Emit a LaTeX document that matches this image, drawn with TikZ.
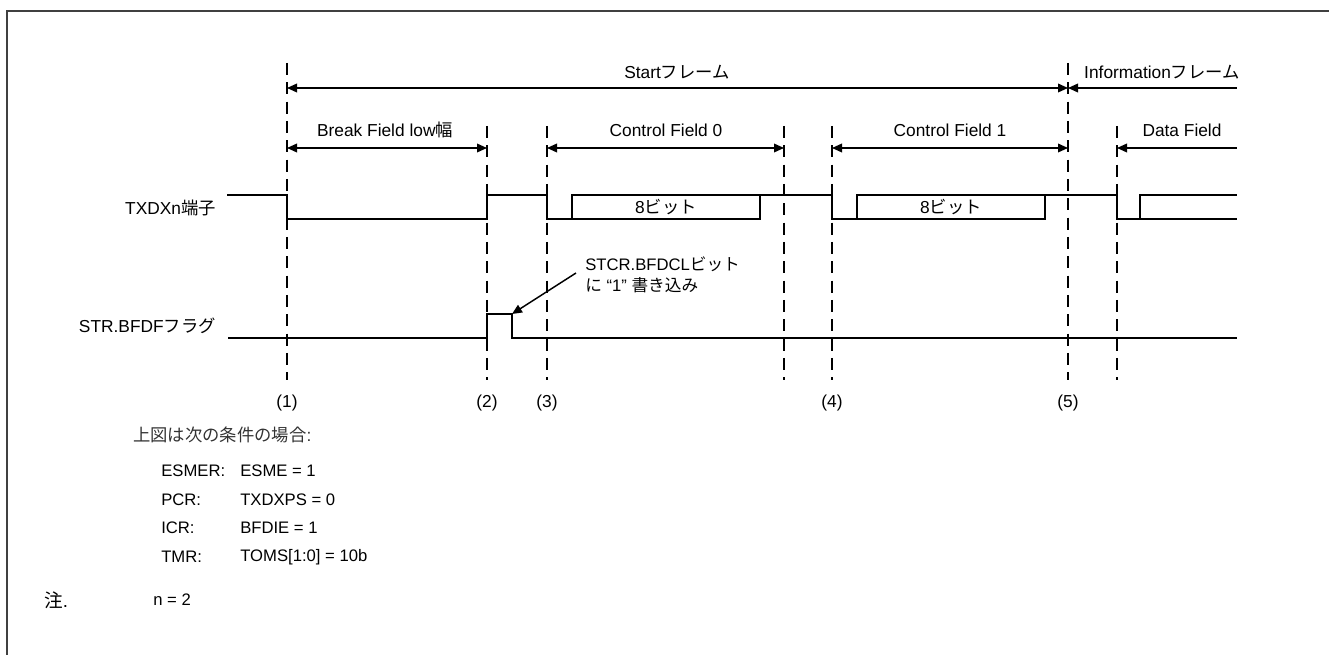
\documentclass[tikz,border=0pt]{standalone}
\usepackage{fontspec}
\setmainfont{Liberation Sans}
\newfontfamily\cjk{Noto Sans CJK JP}
\usetikzlibrary{arrows.meta}
\newcommand{\ja}[1]{{\cjk #1}}
\tikzset{
  every picture/.style={
    line join=miter,
    >={Triangle[length=7.5pt,width=6.5pt]},   % filled tips on every span
  },
  wave/.style={line width=1.1pt},
  guide/.style={line width=1.1pt, dash pattern=on 9pt off 5.5pt},
  span/.style={line width=1.1pt},
  lbl/.style={font=\fontsize{13}{15}\selectfont, inner sep=0pt},
  cond/.style={font=\fontsize{12.5}{15}\selectfont, inner sep=0pt, anchor=west},
}

\begin{document}
\begin{tikzpicture}[x=0.75pt, y=-0.75pt]
    \useasboundingbox (0,0) rectangle (1329,655);
    % Frame
    \draw[line width=1.4pt, black!75] (1329,11) -- (7,11) -- (7,655);

    % Marker lines
    \foreach \name/\x/\top in {m1/287/63, m2/487/126, m3/547/126, m4/784/126,
                               m5/832/126, m6/1068/63, m7/1117/126} {
        \coordinate (\name) at (\x,\top);
        \coordinate (\name b) at (\x,380);
        \draw[guide] (\name) -- (\name b);
    }
    \coordinate (row0) at (0,88);
    \coordinate (row1) at (0,148);
    \coordinate (infoend) at (1237,88);
    \coordinate (dataend) at (1237,148);

    % Frame spans
    \draw[span, <->] (m1 |- row0) -- (m6 |- row0);
    \draw[span, <-] (m6 |- row0) -- (infoend);
    \node[lbl] (startlbl) at (677,72) {Start\ja{フレーム}};
    \node[lbl] (infolbl) at (1162,72) {Information\ja{フレーム}};

    % Field spans
    \draw[span, <->] (m1 |- row1) -- (m2 |- row1);
    \draw[span, <->] (m3 |- row1) -- (m4 |- row1);
    \draw[span, <->] (m5 |- row1) -- (m6 |- row1);
    \draw[span, <-] (m7 |- row1) -- (dataend);
    \node[lbl] (breaklbl) at (385,130) {Break Field low\ja{幅}};
    \node[lbl] (cf0lbl) at (666,130) {Control Field 0};
    \node[lbl] (cf1lbl) at (950,130) {Control Field 1};
    \node[lbl] (datalbl) at (1182,130) {Data Field};

    % TXDXn pin
    \node[lbl, anchor=east] (txdlbl) at (216,208) {TXDXn\ja{端子}};
    \draw[wave] (227,195) -- (287,195) -- (287,219) -- (487,219) -- (487,195)
        -- (547,195) -- (547,219) -- (572,219) -- (572,195) -- (832,195)
        -- (832,219) -- (857,219) -- (857,195) -- (1117,195) -- (1117,219)
        -- (1140,219) -- (1140,195) -- (1237,195);
    \draw[wave] (572,219) -- (760,219) -- (760,195);
    \draw[wave] (857,219) -- (1045,219) -- (1045,195);
    \draw[wave] (1140,219) -- (1237,219);
    \node[lbl] (bits0) at (666,207) {8\ja{ビット}};
    \node[lbl] (bits1) at (951,207) {8\ja{ビット}};

    % STR.BFDF flag
    \node[lbl, anchor=east] (flaglbl) at (216,326) {STR.BFDF\ja{フラグ}};
    \draw[wave] (228,338) -- (487,338) -- (487,314) -- (512,314) -- (512,338)
        -- (1237,338);
    \coordinate (clear) at (512,314);
    \coordinate (notetail) at (576,273);
    \node[lbl, anchor=west, align=left, font=\fontsize{12.5}{15.5}\selectfont]
        (note) at (585,275) {STCR.BFDCL\ja{ビット}\\\ja{に} “1” \ja{書き込み}};
    \draw[span, ->] (notetail) -- (clear);

    % Timing points
    \foreach \name/\i in {m1/1, m2/2, m3/3, m5/4, m6/5}
        \node[lbl] (t\i) at (\name |- 0,403) {(\i)};

    % Conditions
    \node[cond, font=\fontsize{13}{15}\selectfont, text=black!80]
        (condhead) at (133,435) {\ja{上図は次の条件の場合}:};
    \foreach \reg/\val [count=\i] in {{ESMER:}/{ESME = 1}, {PCR:}/{TXDXPS = 0},
                                      {ICR:}/{BFDIE = 1}, {TMR:}/{TOMS[1:0] = 10b}} {
        \node[cond] (reg\i) at (161,442+28.7*\i) {\reg};
        \node[cond] (val\i) at (240,442+28.7*\i) {\val};
    }
    \node[cond, font=\fontsize{14}{16}\selectfont] (notelbl) at (44,600) {\ja{注}.};
    \node[cond] (noteval) at (153,600) {n = 2};
\end{tikzpicture}
\end{document}
